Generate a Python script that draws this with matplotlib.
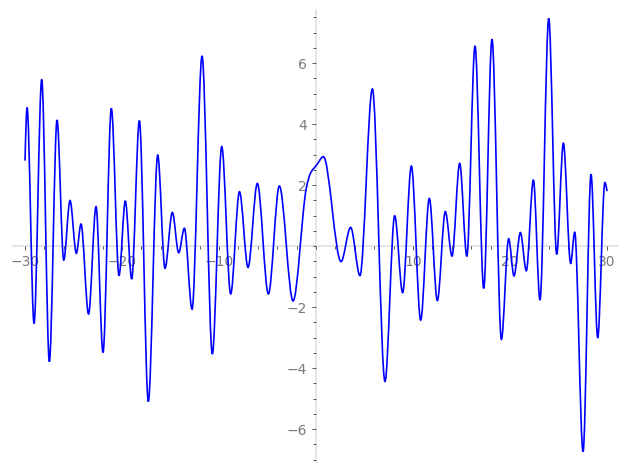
import numpy as np
import matplotlib
matplotlib.use("Agg")
import matplotlib.pyplot as plt
from matplotlib.path import Path
from matplotlib.patches import PathPatch
from matplotlib.ticker import FixedLocator, FuncFormatter

# Curve key points (extrema and a few shape points)
curve_x = [-30.0, -29.79, -29.07, -28.28, -27.49, -26.70, -26.01, -25.36, -24.71, -24.23,
           -23.45, -22.68, -21.96, -21.10, -20.31, -19.66, -19.00, -18.21, -17.29, -16.32,
           -15.57, -14.81, -14.16, -13.57, -12.78, -11.75, -10.69, -9.72, -8.80, -7.89,
           -7.01, -6.05, -4.91, -3.78, -2.37, -1.00, -0.55, 0.05, 0.76, 2.58,
           3.57, 4.53, 5.81, 7.11, 8.11, 8.93, 9.83, 10.79, 11.68, 12.51,
           13.33, 14.02, 14.81, 15.55, 16.39, 17.29, 18.14, 19.11, 19.86, 20.41,
           21.07, 21.68, 22.41, 23.09, 23.99, 24.81, 25.50, 26.25, 26.67, 27.53,
           28.35, 29.04, 29.78, 30.0]
curve_y = [2.80, 4.54, -2.54, 5.46, -3.79, 4.13, -0.46, 1.49, -0.24, 0.72,
           -2.23, 1.29, -3.49, 4.51, -0.97, 1.48, -1.08, 4.11, -5.10, 2.98,
           -0.73, 1.10, -0.22, 0.58, -2.07, 6.23, -3.54, 3.26, -1.57, 1.78,
           -0.70, 2.05, -1.57, 1.97, -1.80, 1.90, 2.40, 2.65, 2.93, -0.51,
           0.61, -0.97, 5.15, -4.44, 0.99, -1.53, 2.62, -2.43, 1.56, -1.79,
           1.13, -0.33, 2.71, -0.33, 6.56, -1.39, 6.78, -3.06, 0.24, -0.98,
           0.44, -0.81, 2.16, -1.77, 7.46, -0.27, 3.37, -0.57, 0.45, -6.74,
           2.35, -3.01, 2.08, 1.80]

x_major = [-30, -20, -10, 10, 20, 30]
y_major = [-6, -4, -2, 2, 4, 6]

X = np.array(curve_x, float)
Y = np.array(curve_y, float)
n = len(X)
m = np.zeros(n)
for i in range(n):
    if i == 0:
        m[i] = (Y[1] - Y[0]) / (X[1] - X[0]) * 1.5
    elif i == n - 1:
        m[i] = (Y[i] - Y[i - 1]) / (X[i] - X[i - 1]) * 1.5
    else:
        s1 = (Y[i] - Y[i - 1]) / (X[i] - X[i - 1])
        s2 = (Y[i + 1] - Y[i]) / (X[i + 1] - X[i])
        if s1 * s2 <= 0:
            m[i] = 0.0
        else:
            m[i] = 2 * s1 * s2 / (s1 + s2)

verts = [(X[0], Y[0])]
codes = [Path.MOVETO]
for i in range(n - 1):
    dx = X[i + 1] - X[i]
    verts += [(X[i] + dx / 3, Y[i] + m[i] * dx / 3),
              (X[i + 1] - dx / 3, Y[i + 1] - m[i + 1] * dx / 3),
              (X[i + 1], Y[i + 1])]
    codes += [Path.CURVE4] * 3

fig = plt.figure(figsize=(6.27, 4.70), dpi=100)
ax = fig.add_axes([0, 0, 1, 1])
ax.add_patch(PathPatch(Path(verts, codes), facecolor="none", edgecolor="#0000ff",
                       lw=1.2, transform=ax.transData, zorder=3))

ax.set_xlim(-32.58, 32.06)
ax.set_ylim(-7.344, 8.066)
ax.patch.set_visible(False)

for s in ["top", "right"]:
    ax.spines[s].set_visible(False)
ax.spines["left"].set_position(("data", 0))
ax.spines["bottom"].set_position(("data", 0))
ax.spines["bottom"].set_bounds(-31.27, 31.1)
ax.spines["left"].set_bounds(-7.08, 7.74)
for s in ["left", "bottom"]:
    ax.spines[s].set_color("#e3e3e3")
    ax.spines[s].set_linewidth(1.3)
    ax.spines[s].set_zorder(1)

fmt = FuncFormatter(lambda v, p: ("%d" % v).replace("-", "\u2212"))
ax.xaxis.set_major_locator(FixedLocator(x_major))
ax.yaxis.set_major_locator(FixedLocator(y_major))
ax.xaxis.set_minor_locator(FixedLocator(np.arange(-30, 31, 2)))
ax.yaxis.set_minor_locator(FixedLocator(np.arange(-7, 7.6, 0.5)))
ax.xaxis.set_major_formatter(fmt)
ax.yaxis.set_major_formatter(fmt)
ax.tick_params(which="major", direction="out", length=3.0, width=0.7, color="#555555",
               labelsize=10, labelcolor="#7a7a7a", pad=3.5)
ax.tick_params(which="minor", direction="out", length=2.0, width=0.7, color="#555555")

fig.savefig("out.png", dpi=100)
